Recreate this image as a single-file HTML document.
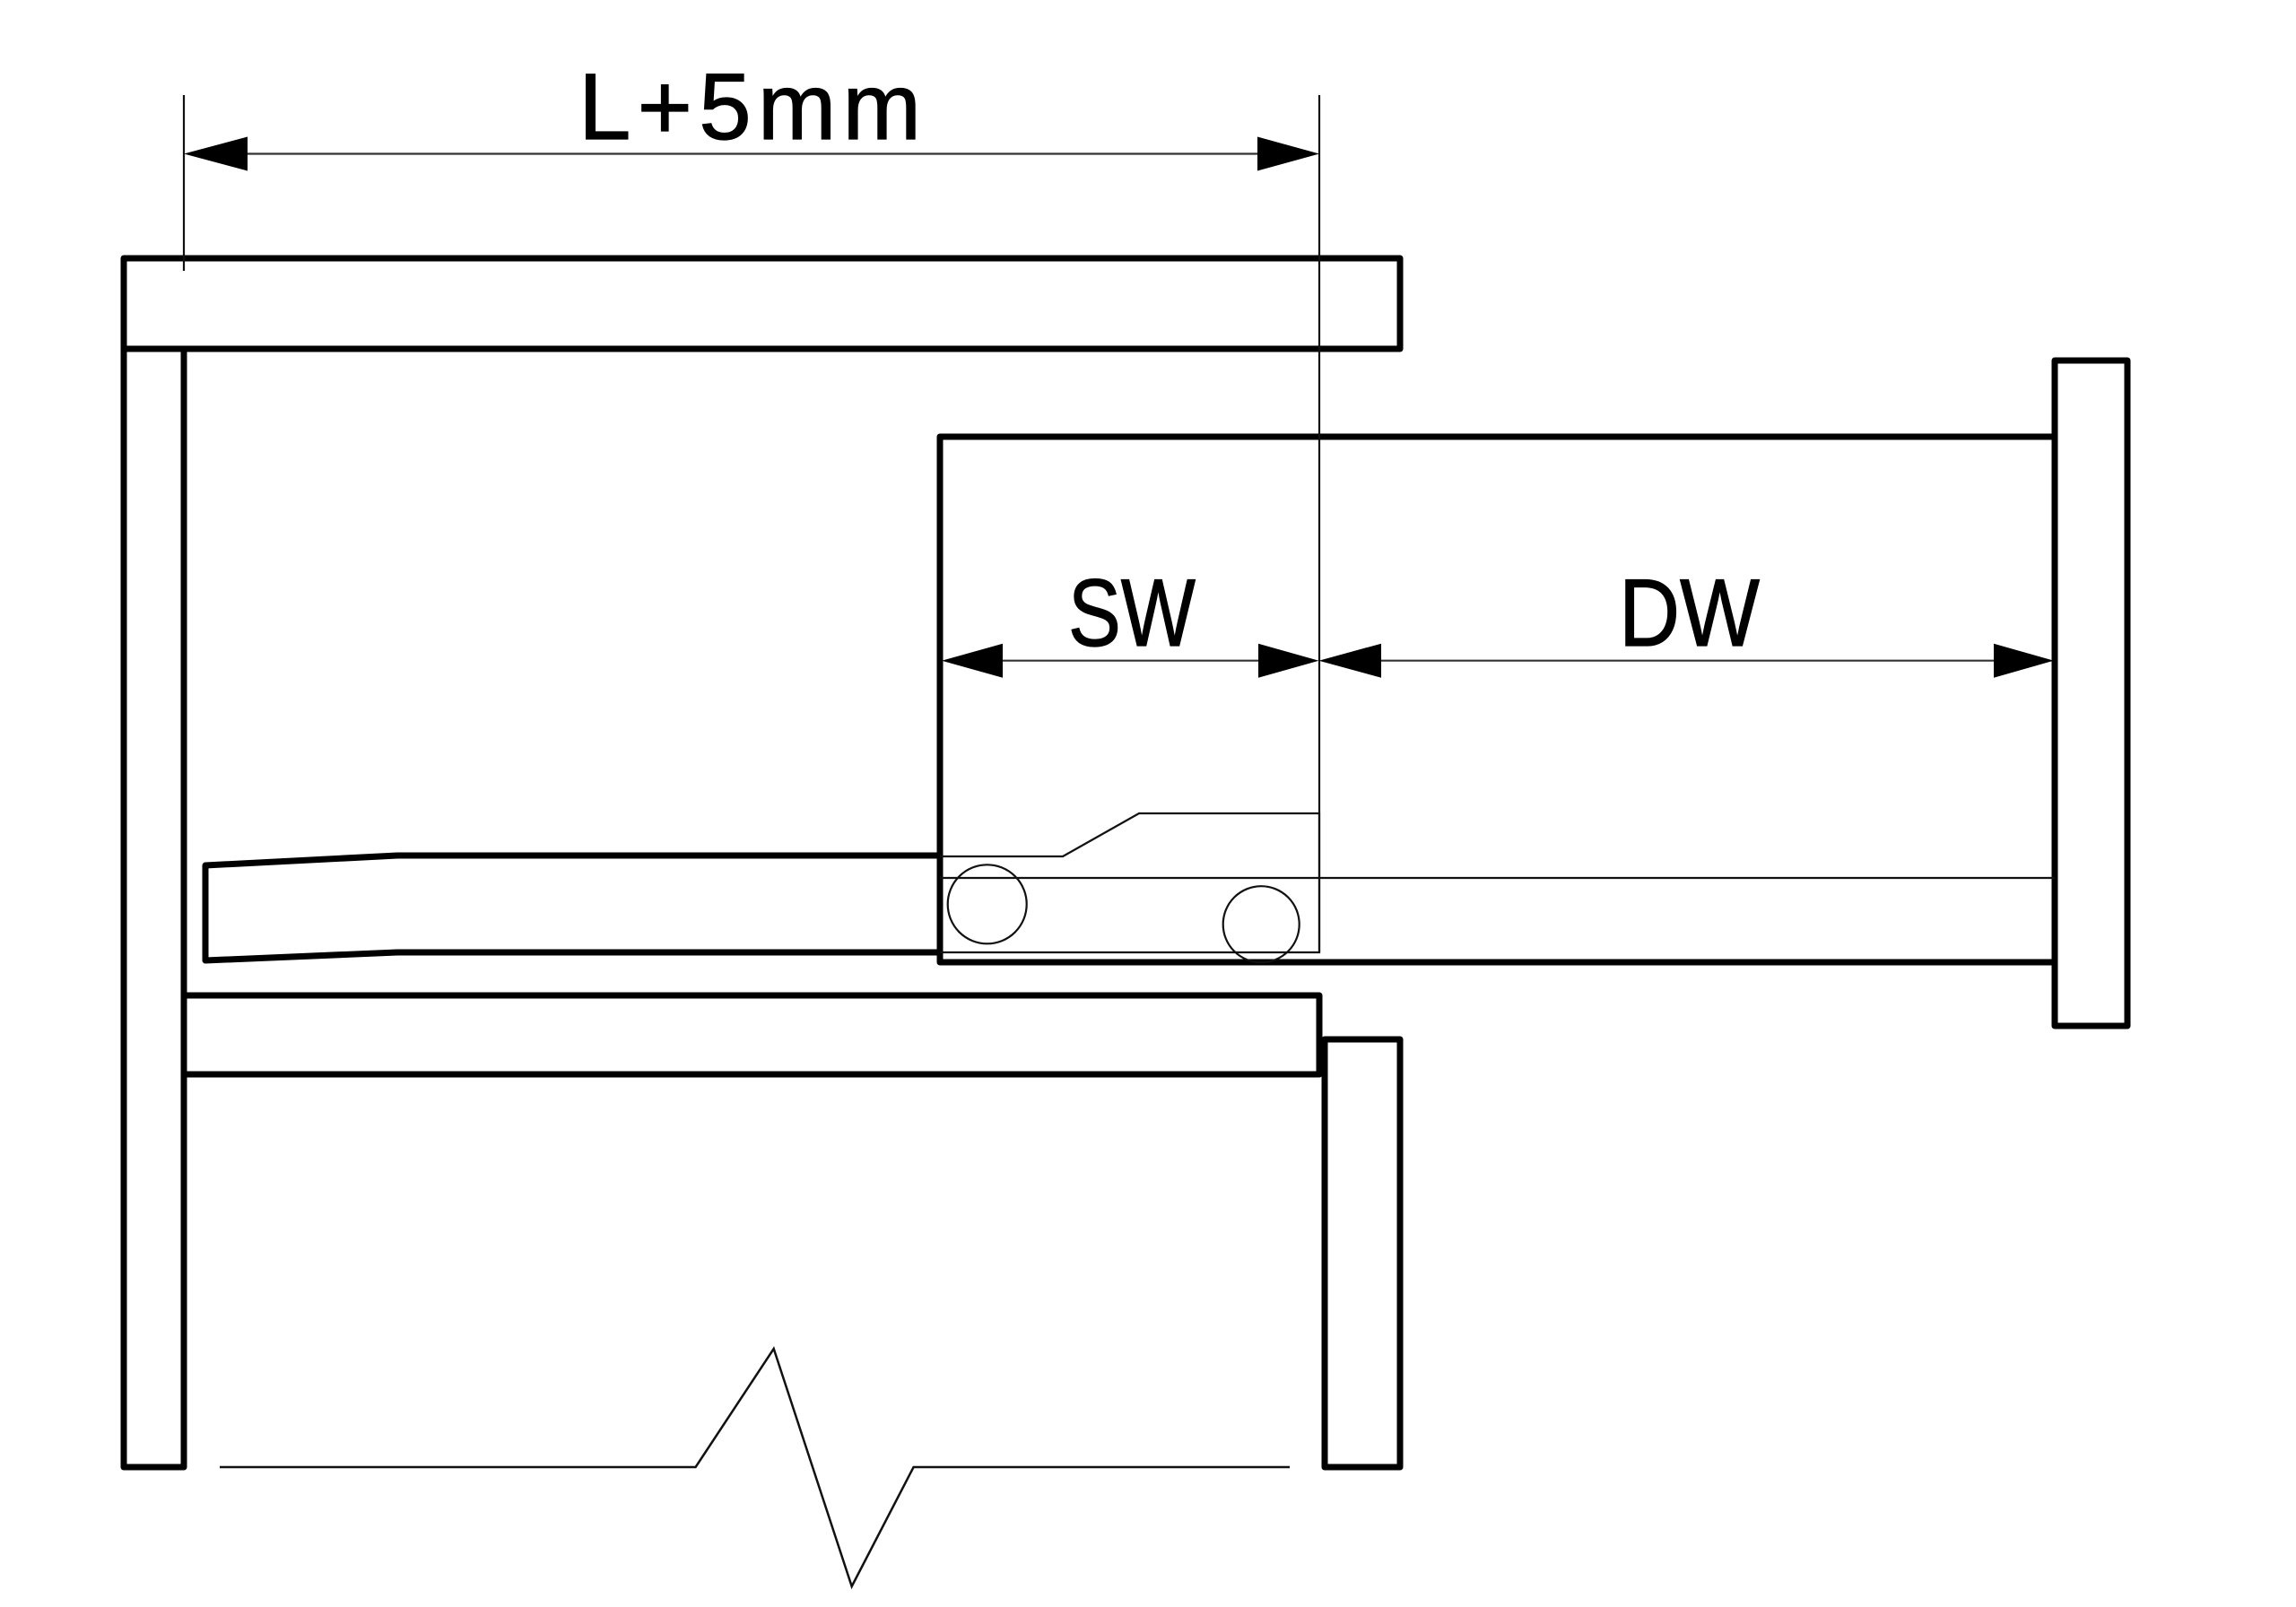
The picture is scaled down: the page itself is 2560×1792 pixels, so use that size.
<!DOCTYPE html>
<html>
<head>
<meta charset="utf-8">
<style>
  html, body { margin: 0; padding: 0; background: #ffffff; }
  body { width: 2560px; height: 1792px; overflow: hidden; }
  svg { display: block; }
</style>
</head>
<body>
<svg width="2560" height="1792" viewBox="0 0 2560 1792" xmlns="http://www.w3.org/2000/svg">
  <rect x="0" y="0" width="2560" height="1792" fill="#ffffff"/>

  <!-- Thick outlines -->
  <g fill="none" stroke="#000" stroke-width="7" stroke-linejoin="round" stroke-linecap="round">
    <!-- top board -->
    <rect x="138" y="288" width="1423" height="101"/>
    <!-- left side panel -->
    <path d="M138,389 V1636 H205 V389"/>
    <!-- shelf / bottom board -->
    <path d="M205,1110 H1471 V1198 H205"/>
    <!-- right small panel -->
    <rect x="1477" y="1159" width="84" height="477"/>
    <!-- drawer box -->
    <path d="M2291,487 H1048 V1073 H2291"/>
    <!-- drawer front -->
    <rect x="2291" y="402" width="81" height="742"/>
    <!-- cabinet rail member -->
    <path d="M1048,954 H443 L229,965 V1071 L443,1062 H1048"/>
  </g>

  <!-- Thin lines -->
  <g fill="none" stroke="#111" stroke-width="2.2" stroke-linejoin="miter">
    <!-- drawer rail inner -->
    <path d="M1048,955 H1185 L1270,907 H1471 V1062 H1048"/>
    <line x1="1048" y1="979" x2="2291" y2="979"/>
    <!-- rollers -->
    <circle cx="1100.7" cy="1008.3" r="44"/>
    <circle cx="1406.2" cy="1030.7" r="42.5"/>
    <!-- extension lines -->
    <line x1="205" y1="106" x2="205" y2="302"/>
    <line x1="1471" y1="106" x2="1471" y2="1062"/>
    <!-- break line -->
    <path d="M245,1636 H775.6 L862.7,1504 L949.7,1769 L1018.6,1636 H1438" stroke-width="2.5"/>
  </g>

  <!-- Dimension lines -->
  <g stroke="#333" stroke-width="2.2" fill="none">
    <line x1="270" y1="171.5" x2="1405" y2="171.5"/>
    <line x1="1112" y1="736.7" x2="1406" y2="736.7"/>
    <line x1="1536" y1="736.7" x2="2226" y2="736.7"/>
  </g>
  <g fill="#000" stroke="none">
    <!-- L+5mm arrows -->
    <polygon points="205,171.5 276,152.5 276,190.5"/>
    <polygon points="1471,171.5 1402,152.5 1402,190.5"/>
    <!-- SW arrows -->
    <polygon points="1050,736.7 1118,717.7 1118,755.7"/>
    <polygon points="1470.5,736.7 1403,717.7 1403,755.7"/>
    <!-- DW arrows -->
    <polygon points="1470.5,736.7 1540,717.7 1540,755.7"/>
    <polygon points="2290,736.7 2223,717.7 2223,755.7"/>
  </g>

  <!-- Labels -->
  <g font-family="'Liberation Sans', 'DejaVu Sans', sans-serif" fill="#000" stroke="#000" stroke-width="1.2">
    <text x="645" y="155" font-size="105" textLength="382" lengthAdjust="spacing">L+5mm</text>
    <text x="1191" y="720" font-size="107" textLength="142" lengthAdjust="spacingAndGlyphs">SW</text>
    <text x="1805" y="720" font-size="107" textLength="157" lengthAdjust="spacingAndGlyphs">DW</text>
  </g>
</svg>
</body>
</html>
